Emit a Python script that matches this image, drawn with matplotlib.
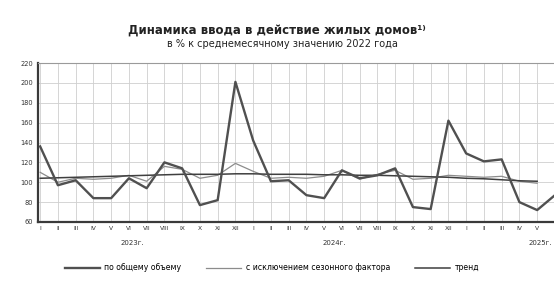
import matplotlib
matplotlib.use("Agg")
import matplotlib.pyplot as plt
import numpy as np

plt.rcParams['font.family'] = ['DejaVu Sans']

months = ["I", "II", "III", "IV", "V", "VI", "VII", "VIII", "IX", "X", "XI", "XII"]
years = ["2023г.", "2024г.", "2025г."]

total = [136, 97, 102, 84, 84, 104, 94, 120, 114, 77, 82, 201,
         142, 101, 102, 87, 84, 112, 104, 107, 114, 75, 73, 162,
         129, 121, 123, 80, 72, 87]
seasonal = [110, 100, 104, 103, 104, 107, 101, 116, 113, 104, 107, 119,
            111, 104, 105, 104, 106, 112, 103, 108, 112, 103, 104, 107,
            106, 105, 106, 101, 99]
trend = [104, 104.5, 105, 105.5, 106, 106.5, 107, 107.5, 108, 108, 108, 108.5,
         108.5, 108, 108, 108, 107.5, 107.5, 107, 107, 106.5, 106, 105.5, 105,
         104, 103.5, 102.5, 101.5, 101]

yticks = [60, 80, 100, 120, 140, 160, 180, 200, 220]

W, H = 554, 284
fig = plt.figure(figsize=(W / 100, H / 100), dpi=100)
px = 17.75
x0 = -0.15
x1 = 31.0
left = 37.5 / W
width = (x1 - x0) * px / W
bottom = (H - 222) / H
height = (222 - 63) / H
ax = fig.add_axes([left, bottom, width, height])

n_ticks = 29
xt = np.arange(n_ticks)
xl = [months[i % 12] for i in xt]

ax.set_xticks(np.arange(32), minor=True)
ax.set_xticks(xt)
ax.set_xticklabels(xl, fontsize=4.3, color="#333333")
ax.set_yticks(yticks)
ax.set_yticklabels([str(v) for v in yticks], fontsize=4.8, color="#333333")
ax.set_xlim(x0, x1)
ax.set_ylim(60, 220)
ax.tick_params(axis="both", which="both", length=0, pad=3)
ax.grid(True, which="both", axis="x", color="#cfcfcf", linewidth=0.6)
ax.grid(True, axis="y", color="#cfcfcf", linewidth=0.6)
ax.set_axisbelow(True)

ax.spines["right"].set_visible(False)
ax.spines["top"].set_color("#9a9a9a")
ax.spines["top"].set_linewidth(0.8)
ax.spines["left"].set_color("#3a3a3a")
ax.spines["left"].set_linewidth(1.6)
ax.spines["bottom"].set_color("#3a3a3a")
ax.spines["bottom"].set_linewidth(1.6)

ax.plot(np.arange(len(seasonal)), seasonal, color="#8c8c8c", linewidth=0.9,
        label="с исключением сезонного фактора", zorder=3)
ax.plot(np.arange(len(trend)), trend, color="#3f3f3f", linewidth=1.1,
        label="тренд", zorder=4)
ax.plot(np.arange(len(total)), total, color="#505050", linewidth=1.7,
        label="по общему объему", zorder=5)

year_pos = [5.2, 16.6, 28.2]
for yp, yl in zip(year_pos, years):
    ax.text(yp, -0.13, yl, transform=ax.get_xaxis_transform(), ha="center",
            va="center", fontsize=5, color="#333333")

fig.text(0.5, 1 - 30 / H, "Динамика ввода в действие жилых домов¹⁾",
         ha="center", va="center", fontsize=8.5, fontweight="bold", color="#222222")
fig.text(0.51, 1 - 44 / H, "в % к среднемесячному значению 2022 года",
         ha="center", va="center", fontsize=7, color="#222222")

handles, labels = ax.get_legend_handles_labels()
order = [2, 0, 1]
leg = fig.legend([handles[i] for i in order], [labels[i] for i in order],
                 loc="center", bbox_to_anchor=(272 / W, 1 - 268 / H), ncol=3,
                 frameon=False, fontsize=5.6, handlelength=4.5, columnspacing=3.2,
                 handletextpad=0.6)

fig.savefig("out.png", dpi=100)
